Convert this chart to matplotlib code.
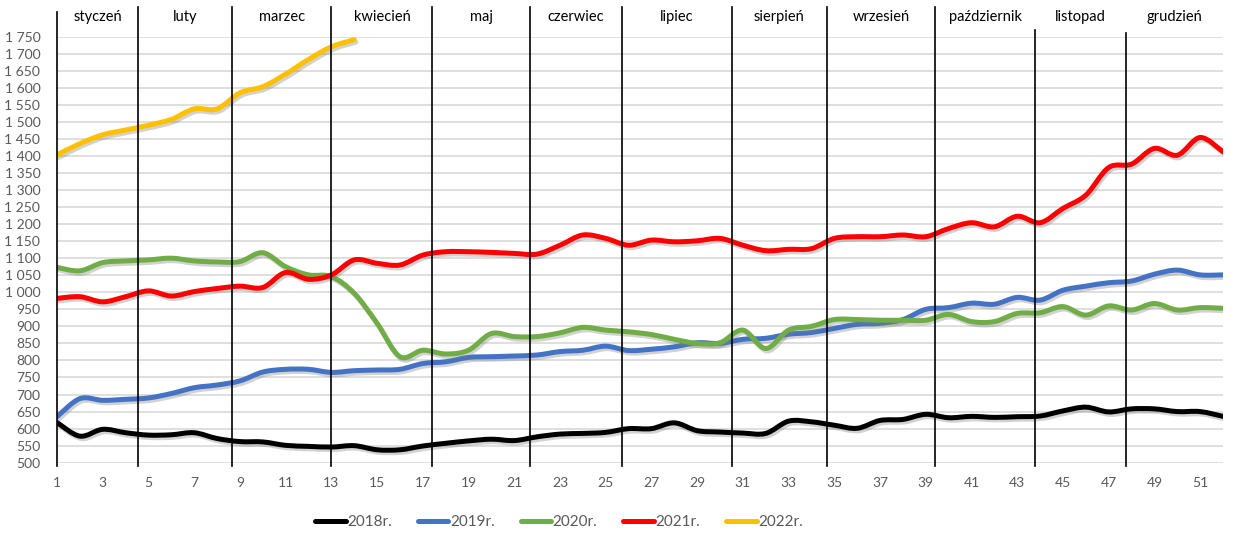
import numpy as np
import matplotlib
matplotlib.use("Agg")
import matplotlib.pyplot as plt
from matplotlib.path import Path
from matplotlib.patches import PathPatch
from matplotlib.lines import Line2D
import matplotlib.patheffects as pe

plt.rcParams['font.family'] = ['Lato', 'DejaVu Sans']

### Data (weekly values)
weeks = np.arange(1, 53)
y2018 = [618, 578, 598, 588, 581, 582, 588, 571, 562, 561, 551, 548, 546, 550, 538, 538,
         549, 557, 564, 569, 565, 576, 584, 586, 589, 600, 600, 617, 594, 590, 587, 586,
         622, 620, 610, 601, 624, 627, 642, 632, 636, 633, 635, 637, 652, 663, 649, 658,
         658, 650, 650, 636]
y2019 = [635, 688, 683, 686, 690, 703, 720, 728, 740, 766, 774, 774, 765, 770, 772, 774,
         791, 796, 809, 811, 813, 816, 826, 830, 842, 829, 833, 840, 852, 850, 862, 865,
         877, 882, 894, 906, 909, 920, 950, 955, 968, 965, 985, 977, 1006, 1018, 1028, 1033,
         1053, 1065, 1051, 1051]
y2020 = [1073, 1063, 1087, 1092, 1095, 1100, 1092, 1089, 1090, 1116, 1075, 1051, 1046, 997,
         909, 811, 830, 819, 830, 879, 870, 870, 881, 897, 889, 884, 876, 862, 850, 852,
         889, 835, 889, 900, 920, 920, 918, 918, 918, 935, 914, 914, 938, 940, 958, 933,
         960, 948, 967, 948, 955, 953]
y2021 = [982, 987, 972, 987, 1004, 989, 1002, 1011, 1018, 1014, 1058, 1038, 1051, 1095,
         1085, 1080, 1109, 1119, 1119, 1117, 1114, 1112, 1138, 1168, 1158, 1138, 1153, 1148,
         1151, 1158, 1138, 1122, 1126, 1128, 1158, 1163, 1163, 1168, 1163, 1187, 1204, 1192,
         1223, 1204, 1246, 1285, 1366, 1376, 1422, 1402, 1454, 1412]
y2022 = [1403, 1436, 1462, 1476, 1490, 1507, 1538, 1538, 1585, 1603, 1640, 1683, 1720, 1741]

series_names = ['2018r.', '2019r.', '2020r.', '2021r.', '2022r.']
series_data = [y2018, y2019, y2020, y2021, y2022]
series_colors = ['#000000', '#4472C4', '#70AD47', '#FF0000', '#FFC000']

months = ['styczeń', 'luty', 'marzec', 'kwiecień', 'maj', 'czerwiec', 'lipiec',
          'sierpień', 'wrzesień', 'październik', 'listopad', 'grudzień']
# month dividers (week position) and how far up they reach
month_bounds = [1.0, 4.54, 8.66, 13.0, 17.42, 21.67, 25.72, 30.51, 34.67, 39.42, 43.77, 47.75, 52.0]
bound_tops = [1822, 1838, 1838, 1838, 1838, 1838, 1838, 1838, 1838, 1838, 1770, 1760]


### Smooth line (Catmull-Rom as cubic bezier segments)
def smooth_path(x, y):
    pts = np.column_stack([x, y]).astype(float)
    n = len(pts)
    verts = [pts[0]]
    codes = [Path.MOVETO]
    for i in range(n - 1):
        p0 = pts[max(i - 1, 0)]
        p1 = pts[i]
        p2 = pts[i + 1]
        p3 = pts[min(i + 2, n - 1)]
        c1 = p1 + (p2 - p0) / 6.0
        c2 = p2 - (p3 - p1) / 6.0
        verts += [c1, c2, p2]
        codes += [Path.CURVE4] * 3
    return Path(verts, codes)


fig = plt.figure(figsize=(12.34, 5.35), dpi=100)
ax = fig.add_axes([0.0462, 0.1351, 0.9449, 0.7965])

shadow = [pe.SimpleLineShadow(offset=(1.2, -1.8), shadow_color='#808080', alpha=0.35),
          pe.Normal()]
for name, vals, col in zip(series_names, series_data, series_colors):
    p = smooth_path(weeks[:len(vals)], vals)
    patch = PathPatch(p, fill=False, edgecolor=col, lw=3.6, capstyle='round',
                      joinstyle='round', zorder=3)
    patch.set_path_effects(shadow)
    ax.add_patch(patch)

# month divider lines
for xb, top in zip(month_bounds[:-1], bound_tops):
    ax.plot([xb, xb], [490, top], color='black', lw=1.2, clip_on=False, zorder=4)

# month names
for i, m in enumerate(months):
    xc = (month_bounds[i] + month_bounds[i + 1]) / 2
    ax.text(xc, 1807, m, ha='center', va='center', fontsize=10.5, color='black',
            clip_on=False)

ax.set_xlim(1, 52)
ax.set_ylim(500, 1750)
yt = np.arange(500, 1751, 50)
ax.set_yticks(yt)
ax.set_yticklabels([f"{v:,}".replace(",", " ") for v in yt])
ax.set_xticks(np.arange(1, 52, 2))
ax.tick_params(axis='both', length=0, labelsize=10, labelcolor='#595959')
ax.tick_params(axis='y', pad=12)
ax.tick_params(axis='x', pad=10)
ax.yaxis.grid(True, color='#D9D9D9', lw=1.2)
ax.set_axisbelow(True)
for s in ax.spines.values():
    s.set_visible(False)

handles = [Line2D([0], [0], color=c, lw=3.6, solid_capstyle='round') for c in series_colors]
fig.legend(handles, series_names, loc='lower center', bbox_to_anchor=(0.453, -0.015),
           ncol=5, frameon=False, fontsize=11, labelcolor='#595959',
           handlelength=2.0, handletextpad=0.1, columnspacing=1.7)

fig.savefig('out.png', dpi=100)
